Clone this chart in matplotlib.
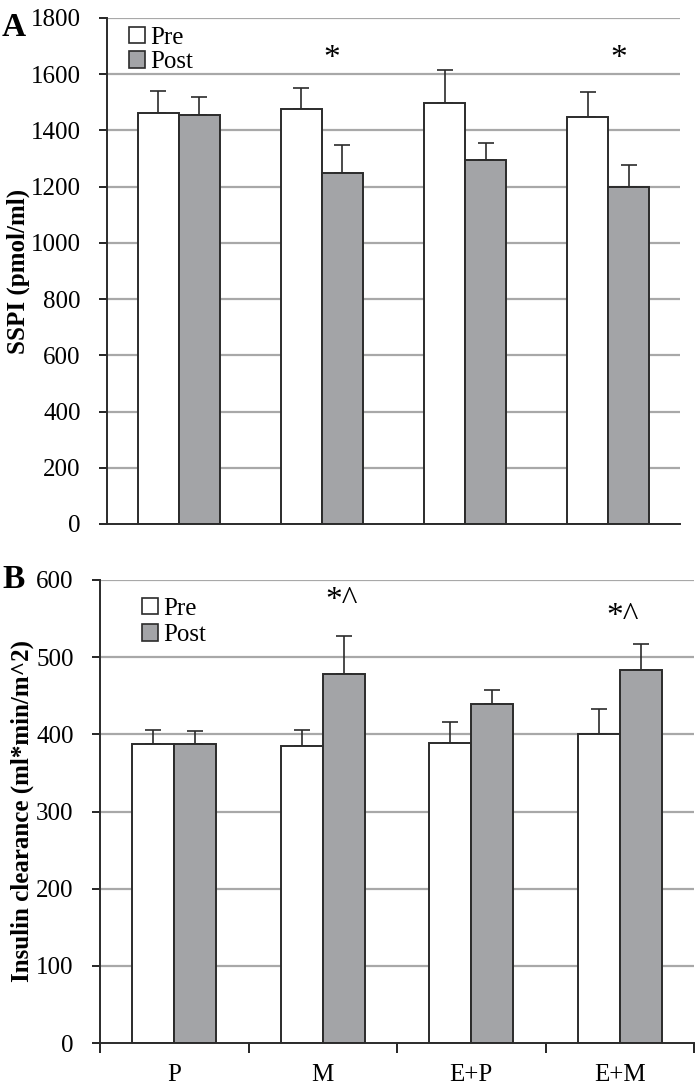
import matplotlib
matplotlib.use("Agg")
import matplotlib.pyplot as plt
import numpy as np
from matplotlib.patches import Patch

plt.rcParams['font.family'] = ['Liberation Serif', 'DejaVu Serif']

categories = ["P", "M", "E+P", "E+M"]
series = ["Pre", "Post"]

sspi_pre = [1462, 1476, 1496, 1449]
sspi_pre_err = [78, 75, 118, 88]
sspi_post = [1455, 1249, 1296, 1200]
sspi_post_err = [64, 99, 58, 77]

clear_pre = [387, 385, 389, 401]
clear_pre_err = [19, 20, 27, 32]
clear_post = [388, 478, 439, 484]
clear_post_err = [16, 50, 18, 33]

sig_a = {1: "*", 3: "*"}
sig_b = {1: "*^", 3: "*^"}

pre_color = "white"
post_color = "#a3a4a7"
edge = "#2b2b2b"
grid_color = "#a8a8a8"

fig = plt.figure(figsize=(6.95, 10.89), dpi=100)
axA = fig.add_axes([107/695, 1-524/1089, 573/695, 506/1089])
axB = fig.add_axes([100/695, 1-1043/1089, 594/695, 463/1089])

def draw(ax, pre, pre_err, post, post_err, width, ylim, yticks):
    x = np.arange(len(categories))
    off = width / 2
    ax.set_axisbelow(True)
    for yv in yticks[1:]:
        ax.axhline(yv, color=grid_color, lw=1.6, zorder=0)
    ax.bar(x - off, pre, width, color=pre_color, edgecolor=edge, lw=1.4, zorder=2)
    ax.bar(x + off, post, width, color=post_color, edgecolor=edge, lw=1.4, zorder=2)
    ax.errorbar(x - off, pre, yerr=[np.zeros(len(pre)), pre_err], fmt='none',
                ecolor=edge, elinewidth=1.2, capsize=5.5, capthick=1.2, zorder=1)
    ax.errorbar(x + off, post, yerr=[np.zeros(len(post)), post_err], fmt='none',
                ecolor=edge, elinewidth=1.2, capsize=5.5, capthick=1.2, zorder=1)
    ax.set_xlim(-0.5, 3.5)
    ax.set_ylim(*ylim)
    ax.set_yticks(yticks)
    ax.tick_params(axis='y', direction='out', length=6, width=1.2, labelsize=18, pad=13)
    for s in ['top', 'right']:
        ax.spines[s].set_visible(False)
    ax.spines['left'].set_linewidth(1.4)
    ax.spines['bottom'].set_linewidth(1.4)
    ax.spines['left'].set_color(edge)
    ax.spines['bottom'].set_color(edge)

draw(axA, sspi_pre, sspi_pre_err, sspi_post, sspi_post_err, 0.287, (0, 1800), list(range(0, 1801, 200)))
axA.set_xticks([])
axA.set_ylabel("SSPI (pmol/ml)", fontsize=18, fontweight='bold')
axA.yaxis.label.set_va('center')
axA.yaxis.set_label_coords((18 - 107) / 573, 0.5)
for i, t in sig_a.items():
    axA.text(i + 0.07, 1655, t, ha='center', va='center', fontsize=24)

draw(axB, clear_pre, clear_pre_err, clear_post, clear_post_err, 0.283, (0, 600), list(range(0, 601, 100)))
axB.set_xticks([-0.5, 0.5, 1.5, 2.5, 3.5])
axB.set_xticklabels([])
axB.tick_params(axis='x', which='major', direction='out', length=7, width=1.2)
axB.set_xticks(np.arange(4), minor=True)
axB.set_xticklabels(categories, minor=True, fontsize=18)
axB.tick_params(axis='x', which='minor', length=0, pad=15)
axB.set_ylabel("Insulin clearance (ml*min/m^2)", fontsize=18, fontweight='bold')
axB.yaxis.label.set_va('center')
axB.yaxis.set_label_coords((22 - 100) / 594, 0.5)
b_off = {1: 0.13, 3: 0.02}
b_y = {1: 573, 3: 552}
for i, t in sig_b.items():
    axB.text(i + b_off[i], b_y[i], t, ha='center', va='center', fontsize=24)

def legend(ax, anchor, spacing):
    handles = [Patch(facecolor=pre_color, edgecolor=edge, lw=1.2),
               Patch(facecolor=post_color, edgecolor=edge, lw=1.2)]
    ax.legend(handles, series, loc='upper left', bbox_to_anchor=anchor, frameon=False,
              fontsize=18, handlelength=0.65, handleheight=0.65, handletextpad=0.2,
              labelspacing=spacing, borderaxespad=0, borderpad=0)

legend(axA, (0.038, 0.983), 0.1)
legend(axB, (0.07, 0.962), 0.18)

fig.text(2/695, 1-27/1089, "A", fontsize=24, fontweight='bold', va='center', ha='left')
fig.text(2/695, 1-580/1089, "B", fontsize=24, fontweight='bold', va='center', ha='left')

fig.savefig("out.png", dpi=100)
